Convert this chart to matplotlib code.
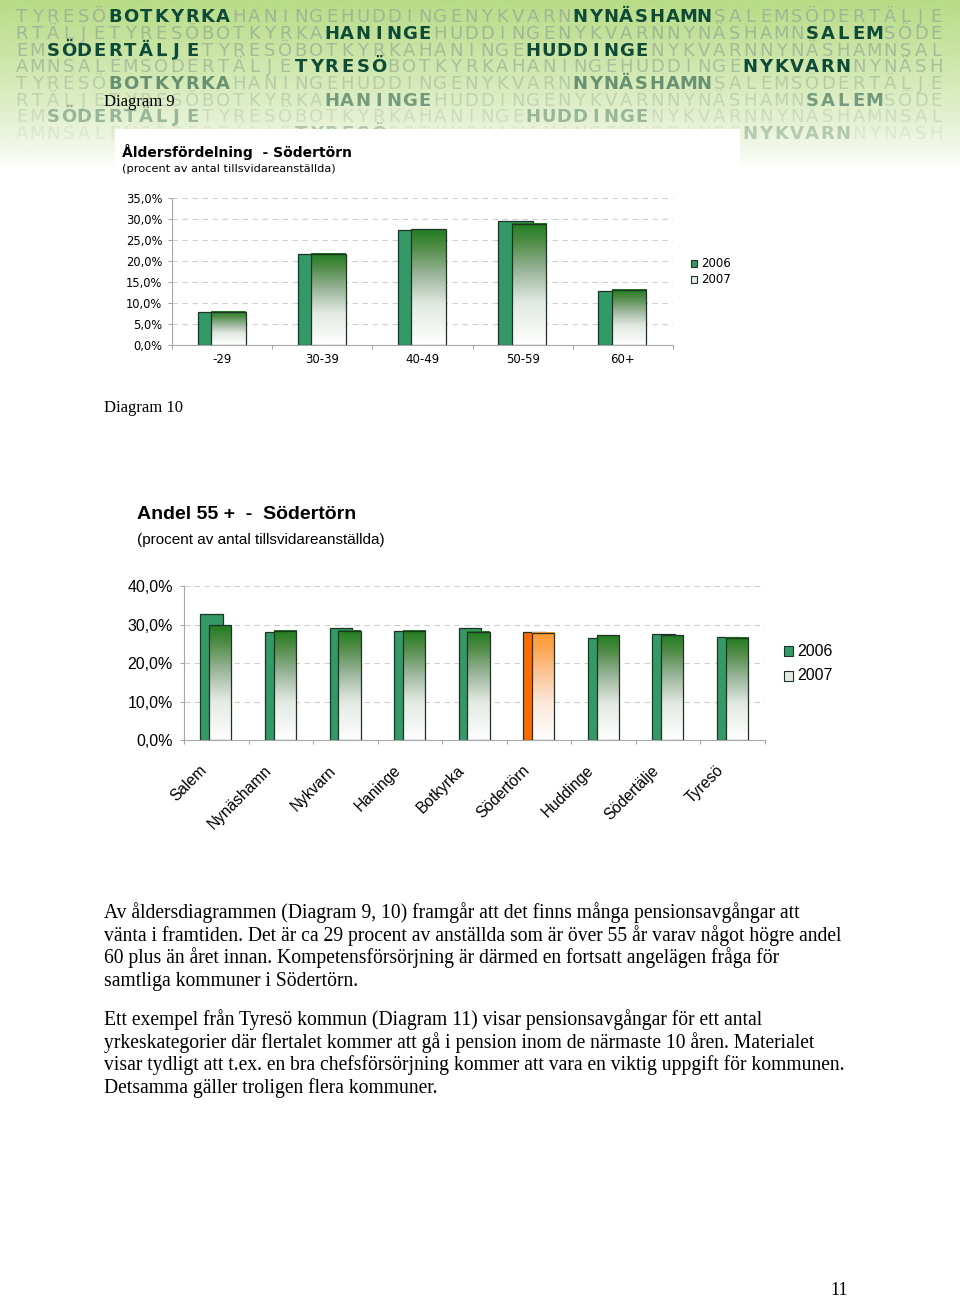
import numpy as np
import matplotlib
matplotlib.use("Agg")
import matplotlib.pyplot as plt
from matplotlib.colors import LinearSegmentedColormap
from matplotlib.patches import Rectangle
from matplotlib import transforms

W, H = 960, 1297

# ---- data ----
age_groups = ["-29", "30-39", "40-49", "50-59", "60+"]
age_2006 = [8.0, 21.7, 27.5, 29.7, 13.0]
age_2007 = [8.0, 21.7, 27.6, 29.0, 13.2]

kommuner = ["Salem", "Nynäshamn", "Nykvarn", "Haninge", "Botkyrka",
            "Södertörn", "Huddinge", "Södertälje", "Tyresö"]
andel_2006 = [32.6, 28.1, 29.1, 28.4, 29.1, 28.1, 26.6, 27.5, 26.8]
andel_2007 = [29.8, 28.4, 28.4, 28.4, 28.1, 27.8, 27.2, 27.2, 26.6]
highlight = "Södertörn"
years = ["2006", "2007"]

para1 = ["Av åldersdiagrammen (Diagram 9, 10) framgår att det finns många pensionsavgångar att",
         "vänta i framtiden. Det är ca 29 procent av anställda som är över 55 år varav något högre andel",
         "60 plus än året innan. Kompetensförsörjning är därmed en fortsatt angelägen fråga för",
         "samtliga kommuner i Södertörn."]
para2 = ["Ett exempel från Tyresö kommun (Diagram 11) visar pensionsavgångar för ett antal",
         "yrkeskategorier där flertalet kommer att gå i pension inom de närmaste 10 åren. Materialet",
         "visar tydligt att t.ex. en bra chefsförsörjning kommer att vara en viktig uppgift för kommunen.",
         "Detsamma gäller troligen flera kommuner."]

# header banner: word cycle, start offset per row and the words set in dark
banner_words = ["TYRESÖ", "BOTKYRKA", "HANINGE", "HUDDINGE", "NYKVARN",
                "NYNÄSHAMN", "SALEM", "SÖDERTÄLJE"]
banner_offsets = [0, 54, 48, 42, 0, 54, 48, 42]
banner_marked = [("BOTKYRKA", "NYNÄSHAMN"), ("HANINGE", "SALEM"),
                 ("SÖDERTÄLJE", "HUDDINGE"), ("TYRESÖ", "NYKVARN")] * 2

GREEN = "#339966"
ORANGE = "#ff6a00"
EDGE = "#1e3326"
SERIF = "Liberation Serif"
SANS = "Liberation Sans"
WIDE = "DejaVu Sans"

green_grad = LinearSegmentedColormap.from_list(
    "g", [(0, "#ffffff"), (0.35, "#e2e9e2"), (0.6, "#9db79d"), (0.85, "#4f8c46"), (1, "#1f7d1f")])
orange_grad = LinearSegmentedColormap.from_list(
    "o", [(0, "#ffffff"), (0.35, "#fde8d8"), (0.6, "#fcc89c"), (0.85, "#fda652"), (1, "#ff9a2e")])
ramp = np.linspace(0, 1, 256).reshape(-1, 1)

fig = plt.figure(figsize=(W / 100, H / 100), dpi=100)
bg = fig.add_axes([0, 0, 1, 1], zorder=0)
bg.set_xlim(0, W); bg.set_ylim(H, 0); bg.axis("off")

# ---- banner ----
rows = np.arange(170)[:, None]
alpha = np.clip(1 - rows / 168.0, 0, 1) ** 0.8
band = np.zeros((170, 2, 4))
band[..., 0], band[..., 1], band[..., 2] = 184 / 255, 220 / 255, 134 / 255
band[..., 3] = alpha
bg.imshow(band, extent=[0, W, 170, 0], aspect="auto", zorder=1, interpolation="bilinear")

cycle = "".join(banner_words)
owner = [w for w in banner_words for _ in w]
light_alpha = [0.8, 0.8, 0.75, 0.7, 0.5, 0.4, 0.3, 0.18]
dark_alpha = [1, 1, 1, 1, 0.55, 0.5, 0.35, 0.25]
for r, (off, marked) in enumerate(zip(banner_offsets, banner_marked)):
    yb = 16 + 16.6 * r + 6.5
    for k in range(60):
        j = (off + k) % len(cycle)
        dark = owner[j] in marked
        bg.text(14 + 15.5 * k + 7.75, yb, cycle[j], ha="center", va="baseline",
                fontsize=13, family=WIDE,
                fontweight="bold" if dark else "normal",
                color="#0e4a38" if dark else "#98ad96",
                alpha=dark_alpha[r] if dark else light_alpha[r], zorder=2)
bg.add_patch(Rectangle((115, 129), 625, 50, fc="white", ec="none", zorder=3))

# ---- page text ----
bg.text(104, 106.5, "Diagram 9", family=SERIF, fontsize=12, va="baseline", zorder=4)
bg.text(104, 412.5, "Diagram 10", family=SERIF, fontsize=12, va="baseline")
for i, line in enumerate(para1):
    bg.text(104, 918 + 22.7 * i, line, family=SERIF, fontsize=14.1, va="baseline")
for i, line in enumerate(para2):
    bg.text(104, 1025 + 22.7 * i, line, family=SERIF, fontsize=14.1, va="baseline")
bg.text(830, 1295, "11", family=SERIF, fontsize=13, va="baseline")

bg.text(122, 157, "Åldersfördelning  - Södertörn", family=WIDE, fontweight="bold",
        fontsize=10, va="baseline", zorder=4)
bg.text(122, 171.5, "(procent av antal tillsvidareanställda)", family=WIDE,
        fontsize=8.2, va="baseline", zorder=4)
bg.text(137, 519, "Andel 55 +  -  Södertörn", family=SANS, fontweight="bold",
        fontsize=14, va="baseline")
bg.text(137, 544, "(procent av antal tillsvidareanställda)", family=SANS,
        fontsize=11, va="baseline")


def add_ax(left, top, right, bottom):
    return fig.add_axes([left / W, 1 - bottom / H, (right - left) / W, (bottom - top) / H],
                        zorder=1, facecolor="none")


def draw_bars(ax, v06, v07, labels):
    for i, (a, b, lab) in enumerate(zip(v06, v07, labels)):
        hot = lab == highlight
        ax.bar(i - 0.245, a, width=0.345, align="edge", color=ORANGE if hot else GREEN,
               edgecolor=EDGE, lw=0.9, zorder=2)
        ax.imshow(ramp, cmap=orange_grad if hot else green_grad, origin="lower",
                  extent=[i - 0.11, i + 0.235, 0, b], aspect="auto", zorder=3,
                  interpolation="bilinear")
        ax.add_patch(Rectangle((i - 0.11, 0), 0.345, b, fill=False, ec=EDGE, lw=0.9, zorder=4))


def style(ax, n, ymax, step, family, fs, ypad):
    ax.set_xlim(-0.5, n - 0.5)
    ax.set_ylim(0, ymax)
    ticks = np.arange(0, ymax + 0.01, step)
    ax.set_yticks(ticks)
    ax.set_yticklabels([f"{t:.1f}%".replace(".", ",") for t in ticks], family=family, fontsize=fs)
    ax.set_xticks(np.arange(-0.5, n, 1.0))
    ax.set_xticklabels([])
    for s in ("top", "right"):
        ax.spines[s].set_visible(False)
    for s in ("left", "bottom"):
        ax.spines[s].set_color("#a8a8a8"); ax.spines[s].set_linewidth(0.8)
    ax.tick_params(axis="y", length=3, color="#a8a8a8", pad=ypad)
    ax.tick_params(axis="x", length=3, color="#a8a8a8")
    for t in ticks[1:]:
        ax.axhline(t, color="#cfcfcf", lw=0.8, ls=(0, (5, 4)), zorder=0)


# ---- Diagram 9 ----
ax1 = add_ax(172, 198.3, 673, 345.3)
draw_bars(ax1, age_2006, age_2007, age_groups)
style(ax1, len(age_groups), 35, 5, WIDE, 8.3, 4.0)
x1_tr = transforms.offset_copy(ax1.get_xaxis_transform(), fig, x=0, y=-14, units="dots")
for i, g in enumerate(age_groups):
    ax1.text(i, 0, g, transform=x1_tr, ha="center", va="center", family=WIDE, fontsize=8.5)

# ---- Diagram 10 ----
ax2 = add_ax(184, 586, 765, 740)
draw_bars(ax2, andel_2006, andel_2007, kommuner)
style(ax2, len(kommuner), 40, 10, SANS, 11.5, 5.0)
x2_tr = transforms.offset_copy(ax2.get_xaxis_transform(), fig, x=-12, y=-28, units="dots")
for i, k in enumerate(kommuner):
    ax2.text(i, 0, k, transform=x2_tr, rotation=45, ha="right", va="center",
             rotation_mode="anchor", family=SANS, fontsize=11.2)

# ---- legends ----
def legend(x, ys, size, family, fs):
    for y, yr, face in zip(ys, years, [GREEN, "#e3ebe3"]):
        bg.add_patch(Rectangle((x, y - size / 2), size, size, fc=face, ec=EDGE, lw=0.8))
        bg.text(x + size + 4, y, yr, family=family, fontsize=fs, va="center")

legend(690.5, [263.5, 279.5], 6.5, WIDE, 8.5)
legend(783.5, [651, 676], 9.5, SANS, 11.5)

fig.savefig("out.png", dpi=100)
